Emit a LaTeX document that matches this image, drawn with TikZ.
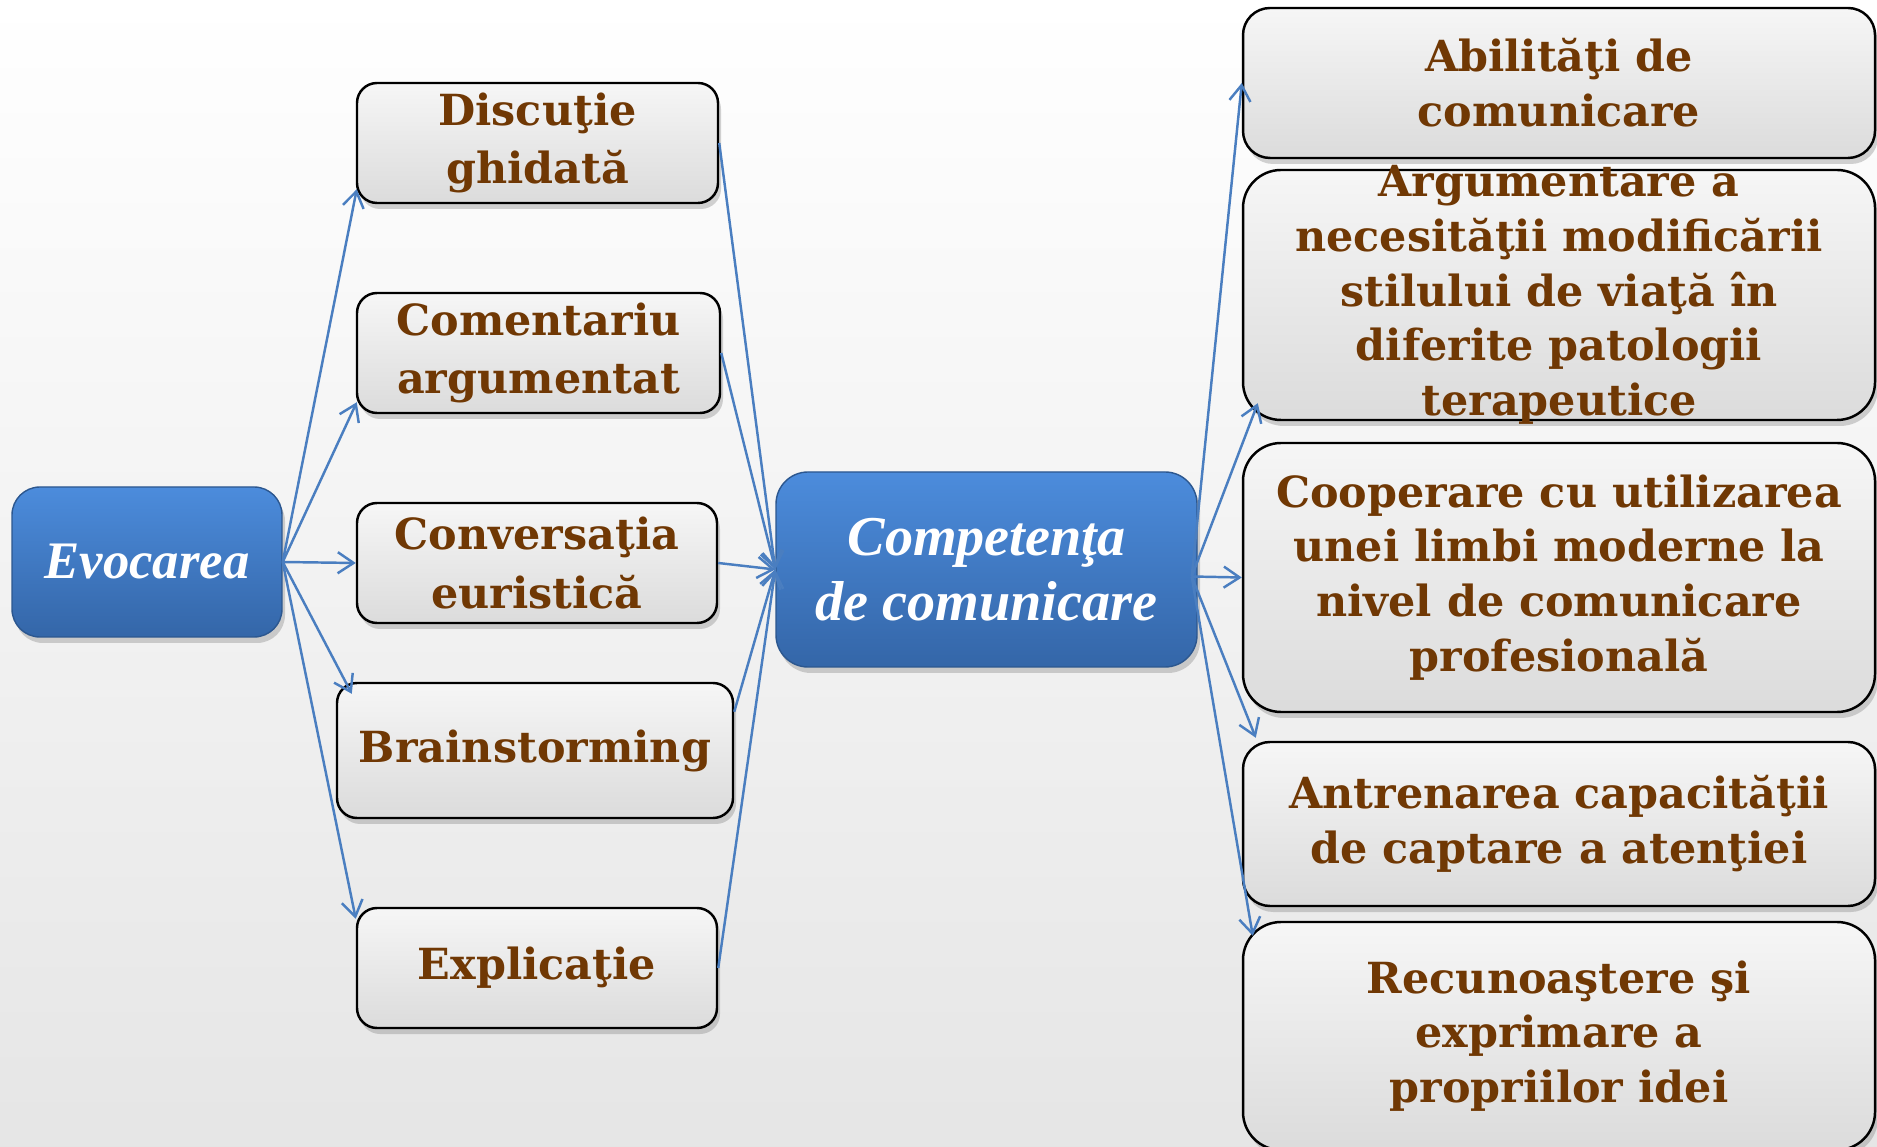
\documentclass[tikz,border=0pt]{standalone}
\usepackage{fontspec}
\setmainfont{DejaVu Serif}
\newfontfamily\titlefont{Liberation Serif}
\usetikzlibrary{shapes.geometric, arrows.meta, shadows, calc}
\definecolor{textbrown}{RGB}{112,56,4}
\definecolor{linkblue}{RGB}{74,126,192}
\definecolor{coretop}{RGB}{76,140,220}
\definecolor{corebot}{RGB}{52,102,168}
\tikzstyle{core} = [rectangle, rounded corners=0.28cm, draw=corebot!85!black, line width=0.4pt, top color=coretop, bottom color=corebot, text=white, align=center, font=\titlefont\bfseries\itshape\fontsize{15}{18.5}\selectfont, drop shadow={opacity=0.35, shadow xshift=0.03cm, shadow yshift=-0.06cm}]
\tikzstyle{method} = [rectangle, rounded corners=0.2cm, draw=black, line width=0.7pt, top color=gray!7, bottom color=gray!28, text=textbrown, align=center, inner sep=1pt, font=\bfseries\fontsize{12.2}{16.6}\selectfont, drop shadow={opacity=0.35, shadow xshift=0.03cm, shadow yshift=-0.06cm}]
\tikzstyle{outcome} = [method, rounded corners=0.38cm, minimum width=6.32cm, font=\bfseries\fontsize{12.2}{15.6}\selectfont]
\tikzstyle{link} = [linkblue, line width=0.7pt, -{Straight Barb[length=4.5pt,width=6pt]}]

\begin{document}
\begin{tikzpicture}
\useasboundingbox (0,0) rectangle (18.77,11.46);
\shade [top color=white, middle color=white, bottom color=gray!20] (0,0) rectangle (18.77,11.46);

% Nodes
\node (evoc) [core, minimum width=2.70cm, minimum height=1.50cm] at (1.47,5.84) {Evocarea};
\node (disc) [method, minimum width=3.61cm, minimum height=1.20cm] at (5.375,10.03) {Discuţie\\ghidată};
\node (com) [method, minimum width=3.63cm, minimum height=1.20cm] at (5.385,7.93) {Comentariu\\argumentat};
\node (conv) [method, minimum width=3.60cm, minimum height=1.20cm] at (5.37,5.83) {Conversaţia\\euristică};
\node (brain) [method, minimum width=3.96cm, minimum height=1.35cm] at (5.35,3.955) {Brainstorming};
\node (expl) [method, minimum width=3.60cm, minimum height=1.20cm] at (5.37,1.78) {Explicaţie};
\node (comp) [core, rounded corners=0.32cm, minimum width=4.21cm, minimum height=1.95cm, font=\titlefont\bfseries\itshape\fontsize{16}{18.5}\selectfont] at (9.865,5.765) {Competenţa\\de comunicare};

\node (abil) [outcome, rounded corners=0.27cm, minimum height=1.50cm] at (15.59,10.63) {Abilităţi de\\comunicare};
\node (arg) [outcome, minimum height=2.50cm, inner ysep=-4pt] at (15.59,8.51) {Argumentare a\\necesităţii modificării\\stilului de viaţă în\\diferite patologii\\terapeutice};
\node (coop) [outcome, minimum height=2.69cm] at (15.59,5.685) {Cooperare cu utilizarea\\unei limbi moderne la\\nivel de comunicare\\profesională};
\node (antr) [outcome, rounded corners=0.27cm, minimum height=1.64cm] at (15.59,3.22) {Antrenarea capacităţii\\de captare a atenţiei};
\node (rec) [outcome, minimum height=2.28cm] at (15.59,1.10) {Recunoaştere şi\\exprimare a\\propriilor idei};

% Arrows
\draw [link] (evoc.east) -- ($(disc.south west)+(0.01,0.15)$);
\draw [link] (evoc.east) -- ($(com.south west)+(0.01,0.12)$);
\draw [link] (evoc.east) -- (conv.west);
\draw [link] (evoc.east) -- ($(brain.north west)+(0.16,-0.12)$);
\draw [link] (evoc.east) -- ($(expl.north west)+(0,-0.12)$);

\draw [link] (disc.east) -- (comp.west);
\draw [link] (com.east) -- (comp.west);
\draw [link] (conv.east) -- (comp.west);
\draw [link] (brain.11) -- (comp.west);
\draw [link] (expl.east) -- (comp.west);

\coordinate (hub) at ($(comp.east)+(-0.06,-0.07)$);
\draw [link] (hub) -- (abil.west);
\draw [link] (hub) -- ($(arg.south west)+(0.16,0.18)$);
\draw [link] (hub) -- (coop.west);
\draw [link] (hub) -- ($(antr.north west)+(0.14,0.03)$);
\draw [link] (hub) -- ($(rec.north west)+(0.11,-0.15)$);
\end{tikzpicture}
\end{document}
